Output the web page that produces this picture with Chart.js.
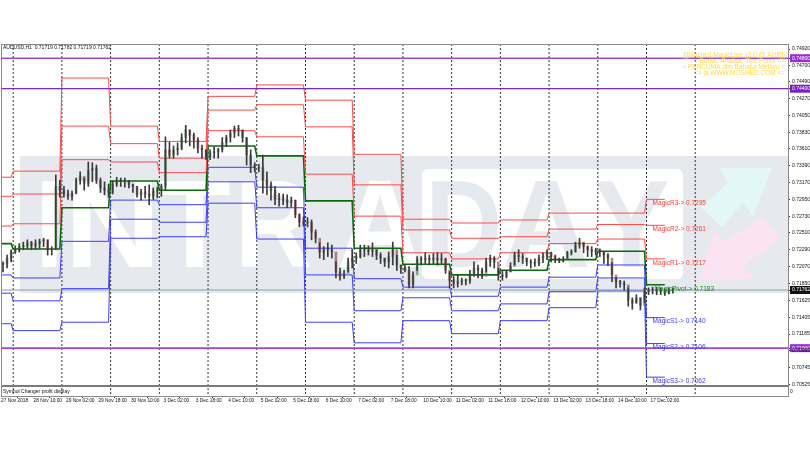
<!DOCTYPE html>
<html>
<head>
<meta charset="utf-8">
<title>AUDUSD H1</title>
<script src="https://cdn.jsdelivr.net/npm/chart.js@4"></script>
<style>
    html, body { margin:0; padding:0; background:#fff; }
    canvas { display:block; filter:blur(0.35px); }
</style>
</head>
<body>
<canvas id="chartAud" width="810" height="450"></canvas>
<script>
// ============================================================
// DATA
// ============================================================
const priceTicks = [0.7492, 0.748, 0.747, 0.7449, 0.744, 0.7427, 0.7405, 0.7383, 0.7361, 0.7339, 0.7317, 0.7295, 0.7273, 0.7251, 0.7229, 0.7207, 0.7185, 0.71762, 0.71625, 0.71405, 0.71185, 0.71, 0.70965, 0.70745, 0.70525];
const boxedTicks = { 0.748: '#9a2fd0', 0.744: '#7a1fc0', 0.71: '#9a2fd0', 0.71762: '#111111' };

const timeBars = [0, 16, 32, 48, 64, 80, 96, 112, 128, 144, 160, 176, 192, 208, 224, 240, 256, 272, 288, 304, 320];
const timeLabels = ['27 Nov 2018', '28 Nov 10:00', '29 Nov 02:00', '29 Nov 18:00', '30 Nov 10:00', '3 Dec 02:00', '3 Dec 18:00', '4 Dec 10:00', '5 Dec 02:00', '5 Dec 18:00', '6 Dec 10:00', '7 Dec 02:00', '7 Dec 18:00', '10 Dec 10:00', '11 Dec 02:00', '11 Dec 18:00', '12 Dec 10:00', '13 Dec 02:00', '13 Dec 18:00', '14 Dec 10:00', '17 Dec 02:00'];

// daily session separators
const separatorBars = [6, 30, 54, 78, 102, 126, 150, 174, 198, 222, 246, 270, 294, 318, 342];

// first bar of every pivot period, plus the bar where the last one stops
const periodStarts = [0, 6, 30, 54, 78, 102, 126, 150, 174, 198, 222, 246, 270, 294, 318, 327];
const magicR3 = [0.7324, 0.7332, 0.7454, 0.7391, 0.7371, 0.7430, 0.7445, 0.7425, 0.7354, 0.7269, 0.7264, 0.7268, 0.7277, 0.7277, 0.7295];
const magicR2 = [0.7299, 0.7302, 0.7391, 0.7368, 0.7349, 0.7412, 0.7419, 0.7390, 0.7314, 0.7255, 0.7244, 0.7246, 0.7256, 0.7262, 0.7261];
const magicR1 = [0.7260, 0.7263, 0.7347, 0.7344, 0.7330, 0.7385, 0.7377, 0.7328, 0.7273, 0.7225, 0.7217, 0.7225, 0.7237, 0.7243, 0.7217];
const magicPivot = [0.7237, 0.7230, 0.7284, 0.7319, 0.7307, 0.7365, 0.7352, 0.7293, 0.7231, 0.7210, 0.7196, 0.7202, 0.7216, 0.7227, 0.7183];
const magicS1 = [0.7196, 0.7192, 0.7240, 0.7294, 0.7288, 0.7337, 0.7311, 0.7231, 0.7191, 0.7180, 0.7168, 0.7180, 0.7193, 0.7209, 0.7140];
const magicS2 = [0.7172, 0.7162, 0.7178, 0.7269, 0.7265, 0.7318, 0.7284, 0.7196, 0.7149, 0.7166, 0.7149, 0.7158, 0.7174, 0.7192, 0.7106];
const magicS3 = [0.7132, 0.7123, 0.7134, 0.7244, 0.7246, 0.7290, 0.7243, 0.7134, 0.7107, 0.7136, 0.7119, 0.7136, 0.7153, 0.7175, 0.7062];

const magicNames = ['MagicR3', 'MagicR2', 'MagicR1', 'MagicPivot', 'MagicS1', 'MagicS2', 'MagicS3'];
const magicLast = [0.7295, 0.7261, 0.7217, 0.7183, 0.7140, 0.7106, 0.7062];

const levelPurple = [0.748, 0.71];
const levelViolet = [0.744];
const lastPrice = 0.71762;

// candles, one every two bars
const candleHigh = [0.7213,0.7222,0.7229,0.7234,0.7237,0.7239,0.7242,0.7240,0.7242,0.7243,0.7244,0.7242,0.7233,0.7327,0.7320,0.7312,0.7307,0.7306,0.7323,0.7331,0.7323,0.7344,0.7343,0.7340,0.7323,0.7318,0.7315,0.7319,0.7324,0.7323,0.7323,0.7320,0.7315,0.7312,0.7308,0.7312,0.7314,0.7310,0.7311,0.7315,0.7377,0.7370,0.7365,0.7369,0.7381,0.7392,0.7386,0.7382,0.7376,0.7366,0.7360,0.7360,0.7364,0.7362,0.7376,0.7379,0.7386,0.7391,0.7392,0.7386,0.7376,0.7360,0.7343,0.7341,0.7353,0.7331,0.7318,0.7312,0.7303,0.7302,0.7301,0.7298,0.7294,0.7276,0.7272,0.7271,0.7268,0.7255,0.7238,0.7233,0.7238,0.7235,0.7213,0.7205,0.7202,0.7218,0.7229,0.7225,0.7235,0.7235,0.7234,0.7238,0.7229,0.7225,0.7218,0.7226,0.7239,0.7222,0.7209,0.7209,0.7207,0.7200,0.7220,0.7220,0.7225,0.7222,0.7224,0.7225,0.7224,0.7218,0.7200,0.7194,0.7196,0.7192,0.7191,0.7202,0.7213,0.7209,0.7205,0.7218,0.7222,0.7220,0.7205,0.7202,0.7202,0.7212,0.7226,0.7229,0.7224,0.7218,0.7216,0.7217,0.7222,0.7225,0.7229,0.7226,0.7222,0.7218,0.7220,0.7227,0.7229,0.7239,0.7244,0.7238,0.7234,0.7233,0.7231,0.7230,0.7226,0.7224,0.7212,0.7192,0.7189,0.7188,0.7179,0.7166,0.7170,0.7166,0.7179,0.7179,0.7180,0.7180,0.7179,0.7178,0.7179,0.7179];
const candleLow = [0.7200,0.7205,0.7213,0.7224,0.7226,0.7229,0.7230,0.7229,0.7230,0.7231,0.7233,0.7222,0.7222,0.7229,0.7298,0.7298,0.7295,0.7294,0.7302,0.7315,0.7307,0.7312,0.7318,0.7316,0.7304,0.7301,0.7298,0.7302,0.7312,0.7312,0.7311,0.7310,0.7304,0.7298,0.7294,0.7297,0.7288,0.7295,0.7297,0.7299,0.7307,0.7349,0.7349,0.7353,0.7360,0.7369,0.7365,0.7362,0.7356,0.7349,0.7347,0.7347,0.7349,0.7349,0.7357,0.7364,0.7370,0.7376,0.7378,0.7370,0.7340,0.7330,0.7331,0.7331,0.7303,0.7301,0.7294,0.7288,0.7286,0.7288,0.7284,0.7285,0.7271,0.7259,0.7260,0.7259,0.7242,0.7238,0.7218,0.7216,0.7220,0.7218,0.7192,0.7189,0.7191,0.7200,0.7205,0.7211,0.7218,0.7220,0.7222,0.7220,0.7216,0.7211,0.7207,0.7205,0.7209,0.7202,0.7198,0.7200,0.7179,0.7179,0.7202,0.7209,0.7211,0.7209,0.7211,0.7209,0.7211,0.7198,0.7179,0.7179,0.7180,0.7183,0.7183,0.7185,0.7194,0.7192,0.7191,0.7200,0.7207,0.7205,0.7189,0.7189,0.7192,0.7200,0.7209,0.7213,0.7211,0.7208,0.7205,0.7207,0.7208,0.7212,0.7216,0.7213,0.7212,0.7212,0.7213,0.7218,0.7222,0.7226,0.7231,0.7225,0.7220,0.7220,0.7222,0.7220,0.7211,0.7208,0.7187,0.7179,0.7180,0.7176,0.7155,0.7151,0.7159,0.7150,0.7160,0.7170,0.7171,0.7170,0.7170,0.7169,0.7171,0.7172];
const candleClose = [0.7210,0.7218,0.7226,0.7229,0.7233,0.7234,0.7238,0.7234,0.7237,0.7240,0.7242,0.7229,0.7229,0.7312,0.7307,0.7302,0.7299,0.7303,0.7320,0.7325,0.7316,0.7333,0.7336,0.7320,0.7310,0.7307,0.7304,0.7315,0.7320,0.7319,0.7318,0.7315,0.7312,0.7301,0.7304,0.7302,0.7299,0.7306,0.7307,0.7312,0.7360,0.7353,0.7360,0.7362,0.7376,0.7386,0.7379,0.7373,0.7362,0.7360,0.7351,0.7356,0.7357,0.7360,0.7369,0.7376,0.7382,0.7388,0.7386,0.7376,0.7353,0.7340,0.7336,0.7337,0.7320,0.7314,0.7307,0.7295,0.7295,0.7294,0.7291,0.7294,0.7275,0.7265,0.7264,0.7265,0.7252,0.7244,0.7226,0.7229,0.7229,0.7226,0.7200,0.7194,0.7198,0.7213,0.7218,0.7220,0.7231,0.7229,0.7227,0.7231,0.7222,0.7218,0.7213,0.7220,0.7229,0.7209,0.7205,0.7202,0.7183,0.7196,0.7216,0.7216,0.7218,0.7216,0.7218,0.7216,0.7217,0.7202,0.7189,0.7185,0.7187,0.7188,0.7189,0.7196,0.7205,0.7202,0.7194,0.7213,0.7218,0.7213,0.7196,0.7194,0.7200,0.7207,0.7222,0.7220,0.7218,0.7213,0.7212,0.7211,0.7218,0.7220,0.7225,0.7220,0.7216,0.7214,0.7217,0.7225,0.7226,0.7235,0.7239,0.7233,0.7229,0.7227,0.7229,0.7226,0.7222,0.7218,0.7196,0.7187,0.7185,0.7183,0.7163,0.7159,0.7166,0.7156,0.7174,0.7176,0.7176,0.7175,0.7174,0.7172,0.7176,0.7176];

// text on the chart
const headerText = 'AUDUSD,H1  0.71719 0.71782 0.71719 0.71762';
const panelText = 'Symbol Changer profit display';
const bannerLines = ['||[Moshed MagicLine v2.0 @ Aktif]||', '== Berita, Analisa, Tips Forex ==', '= PERCUMA dlm Bahasa Melayu =', '=> di WWW.MOSHED.COM <='];

const BAR_MAX = 387.7;
const PRICE_TOP = 0.74986;
const PRICE_BOTTOM = 0.70373;
const PANEL_LINE = 0.70504;

// ============================================================
// HELPERS
// ============================================================
function stepPoints(levels) {
    const points = [];
    levels.forEach((v, i) => {
        points.push({ x: periodStarts[i], y: v });
        const end = i === levels.length - 1 ? periodStarts[i + 1] : periodStarts[i + 1] - 1;
        points.push({ x: end, y: v });
    });
    return points;
}

function stepDataset(levels, color, width) {
    return { type: 'line', data: stepPoints(levels), borderColor: color, borderWidth: width, pointRadius: 0, tension: 0, order: 3 };
}

function flatDataset(value, color, width) {
    return { type: 'line', data: [{ x: 0, y: value }, { x: BAR_MAX, y: value }], borderColor: color, borderWidth: width, pointRadius: 0, order: 2 };
}

function separatorDataset() {
    const points = [];
    separatorBars.forEach(b => {
        points.push({ x: b, y: PRICE_TOP }, { x: b, y: PRICE_BOTTOM }, { x: b, y: null });
    });
    return { type: 'line', data: points, borderColor: '#333', borderWidth: 1, borderDash: [2, 2], pointRadius: 0, spanGaps: false, order: 5 };
}

const candleOpen = candleClose.map((c, i) => i === 0 ? c : candleClose[i - 1]);
const candleColors = candleClose.map((c, i) => c >= candleOpen[i] ? 'rgba(70,120,70,0.6)' : 'rgba(130,60,60,0.6)');

function polygon(ctx, pts) {
    ctx.beginPath();
    pts.forEach((p, i) => i === 0 ? ctx.moveTo(p[0], p[1]) : ctx.lineTo(p[0], p[1]));
    ctx.closePath();
    ctx.fill();
}

// one watermark letter stretched to fit between left and right
function fitLetter(ctx, ch, left, right, color) {
    ctx.save();
    ctx.font = 'bold 124px "Liberation Sans"';
    ctx.textAlign = 'left';
    ctx.textBaseline = 'alphabetic';
    ctx.fillStyle = color;
    const m = ctx.measureText(ch);
    const inkLeft = -m.actualBoundingBoxLeft;
    const inkWidth = m.actualBoundingBoxRight + m.actualBoundingBoxLeft;
    ctx.translate(left, 267);
    ctx.scale((right - left) / inkWidth, 1);
    ctx.fillText(ch, -inkLeft, 0);
    ctx.restore();
}

// ============================================================
// PLUGINS
// ============================================================
const watermarkPlugin = {
    id: 'watermark',
    beforeDatasetsDraw(chart) {
        const ctx = chart.ctx;
        const gray = '#e6e9ee';
        ctx.save();
        ctx.fillStyle = gray;
        ctx.fillRect(20, 156, 768, 137);

        ctx.fillStyle = '#ffffff';
        ctx.beginPath();
        ctx.roundRect(422, 169, 261, 110, 6);
        ctx.fill();

        fitLetter(ctx, 'I', 42, 57, '#ffffff');
        fitLetter(ctx, 'N', 73, 153, '#ffffff');
        fitLetter(ctx, 'T', 160, 230, '#ffffff');
        fitLetter(ctx, 'R', 242, 310, '#ffffff');
        fitLetter(ctx, 'A', 340, 420, '#ffffff');
        fitLetter(ctx, 'D', 432, 498, gray);
        fitLetter(ctx, 'A', 505, 588, gray);
        fitLetter(ctx, 'Y', 595, 668, gray);

        ctx.fillStyle = '#e3f7f7';
        polygon(ctx, [[772, 168], [720, 168], [728, 183], [700, 207], [722, 227], [743, 203], [753, 217]]);
        ctx.fillStyle = '#fbe3f3';
        polygon(ctx, [[700, 279], [715, 230], [725, 242], [762, 217], [780, 238], [743, 267], [755, 279]]);
        ctx.restore();
    }
};

const textPlugin = {
    id: 'chartTexts',
    afterDraw(chart) {
        const ctx = chart.ctx;
        const area = chart.chartArea;
        const sx = chart.scales.x;
        const sy = chart.scales.y;
        const colors = ['#ff3b3b', '#ff3b3b', '#ff3b3b', '#1c8a1c', '#3a3aff', '#3a3aff', '#3a3aff'];

        ctx.save();
        ctx.strokeStyle = '#8a8a8a';
        ctx.lineWidth = 1;
        ctx.strokeRect(area.left + 0.5, area.top + 0.5, area.right - area.left, area.bottom - area.top);

        ctx.textBaseline = 'middle';
        ctx.textAlign = 'left';
        ctx.fillStyle = '#111';
        ctx.font = '5px "Liberation Sans"';
        ctx.fillText(headerText, 3, 48);
        ctx.fillText(panelText, 3, 392);
        ctx.fillText('0', 790, 392);

        ctx.font = '6.5px "Liberation Sans"';
        magicNames.forEach((name, i) => {
            ctx.fillStyle = colors[i];
            const x = sx.getPixelForValue(name === 'MagicPivot' ? 322 : 321);
            const y = sy.getPixelForValue(magicLast[i]) + 4;
            ctx.fillText(name + '-> ' + magicLast[i].toFixed(4), x, y);
        });

        ctx.fillStyle = '#ffd84a';
        ctx.textAlign = 'right';
        bannerLines.forEach((line, i) => ctx.fillText(line, 785, 55 + i * 6.2));
        ctx.restore();
    }
};

// ============================================================
// CHART
// ============================================================
new Chart(document.getElementById('chartAud'), {
    type: 'bar',
    data: {
        datasets: [
            separatorDataset(),
            stepDataset(magicR3, '#ff4a4a', 1),
            stepDataset(magicR2, '#ff4a4a', 1),
            stepDataset(magicR1, '#ff4a4a', 1),
            stepDataset(magicPivot, '#0b6b0b', 1.6),
            stepDataset(magicS1, '#3c3cff', 1),
            stepDataset(magicS2, '#3c3cff', 1),
            stepDataset(magicS3, '#3c3cff', 1),
            flatDataset(levelPurple[0], '#a344d6', 1.6),
            flatDataset(levelPurple[1], '#a344d6', 1.6),
            flatDataset(levelViolet[0], '#7a28c4', 1.2),
            flatDataset(lastPrice, '#8a9ab0', 1),
            flatDataset(PANEL_LINE, '#7a7a7a', 2),
            {
                label: 'body',
                data: candleClose.map((c, i) => ({ x: 1 + 2 * i, y: [candleOpen[i], c] })),
                backgroundColor: candleColors,
                barThickness: 2,
                minBarLength: 1,
                grouped: false,
                order: 1
            },
            {
                label: 'wick',
                data: candleHigh.map((h, i) => ({ x: 1 + 2 * i, y: [candleLow[i], h] })),
                backgroundColor: '#3a3a3a',
                barThickness: 1,
                grouped: false,
                order: 0
            }
        ]
    },
    options: {
        responsive: false,
        animation: false,
        layout: { padding: { top: 44, left: 1, right: 0, bottom: 0 } },
        plugins: { legend: { display: false }, tooltip: { enabled: false } },
        scales: {
            x: {
                type: 'linear',
                min: 0,
                max: BAR_MAX,
                offset: false,
                grid: { drawOnChartArea: false, drawTicks: true, tickLength: 2, color: '#333' },
                border: { color: '#8a8a8a' },
                afterBuildTicks: scale => { scale.ticks = timeBars.map(v => ({ value: v })); },
                afterFit: scale => { scale.height = 54; },
                ticks: {
                    autoSkip: false,
                    maxRotation: 0,
                    minRotation: 0,
                    align: 'start',
                    padding: 0,
                    color: '#111',
                    font: { size: 4.8, family: 'Liberation Sans' },
                    callback: v => timeLabels[timeBars.indexOf(v)]
                }
            },
            y: {
                position: 'right',
                min: PRICE_BOTTOM,
                max: PRICE_TOP,
                grid: { drawOnChartArea: false, drawTicks: true, tickLength: 2, color: '#333' },
                border: { color: '#8a8a8a' },
                afterBuildTicks: scale => { scale.ticks = priceTicks.map(v => ({ value: v })); },
                afterFit: scale => { scale.width = 22; },
                ticks: {
                    autoSkip: false,
                    padding: 2,
                    font: { size: 5, family: 'Liberation Sans' },
                    color: c => boxedTicks[c.tick.value] ? '#ffffff' : '#111111',
                    showLabelBackdrop: c => !!boxedTicks[c.tick.value],
                    backdropColor: c => boxedTicks[c.tick.value] || '#ffffff',
                    backdropPadding: { x: 2, y: 1 },
                    callback: v => v.toFixed(5)
                }
            }
        }
    },
    plugins: [watermarkPlugin, textPlugin]
});
</script>
</body>
</html>
